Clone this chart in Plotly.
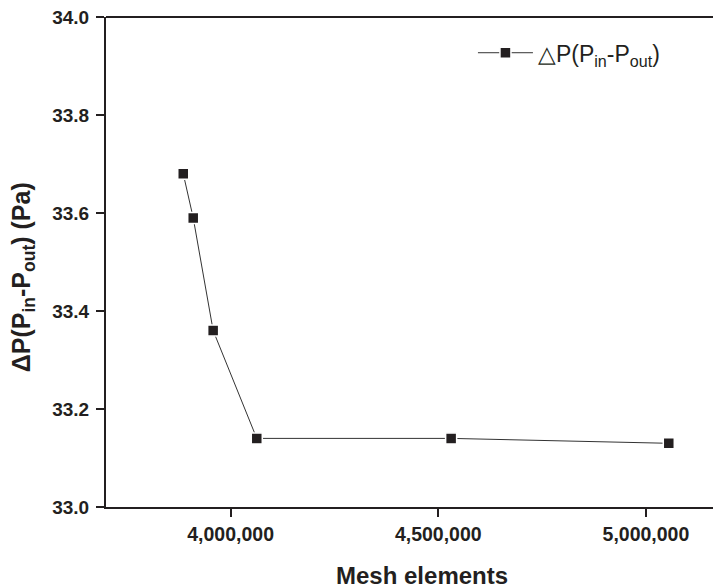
import plotly.graph_objects as go

mesh_elements = [3886000, 3910000, 3958000, 4063000, 4531000, 5055000]
delta_p = [33.68, 33.59, 33.36, 33.14, 33.14, 33.13]
x_tick_vals = [4000000, 4500000, 5000000]
x_tick_text = ["4,000,000", "4,500,000", "5,000,000"]
y_tick_vals = [33.0, 33.2, 33.4, 33.6, 33.8, 34.0]
y_tick_text = ["33.0", "33.2", "33.4", "33.6", "33.8", "34.0"]

FONT = "Liberation Sans, Arial"
INK = "#231f20"

fig = go.Figure()
fig.add_trace(go.Scatter(
    x=mesh_elements, y=delta_p, mode="lines+markers",
    name="△P(P<sub>in</sub>-P<sub>out</sub>)",
    line=dict(color="#333333", width=1),
    marker=dict(symbol="square", size=11, color=INK,
                line=dict(color="white", width=1.5)),
))

fig.update_layout(
    width=721, height=588,
    margin=dict(l=98, r=0, t=9, b=89, autoexpand=False),
    paper_bgcolor="white", plot_bgcolor="white",
    showlegend=True,
    legend=dict(x=0.589, y=0.927, xanchor="left", yanchor="middle",
                bgcolor="rgba(0,0,0,0)",
                font=dict(family=FONT, size=23, color=INK),
                itemwidth=55),
    xaxis=dict(
        range=[3700000, 5200000], automargin=False,
        tickvals=x_tick_vals, ticktext=x_tick_text,
        ticks="outside", ticklen=8, tickwidth=2, tickcolor=INK,
        ticklabelstandoff=1, ticklabeloverflow="allow",
        showline=True, linewidth=2, linecolor=INK, mirror=False,
        showgrid=False, zeroline=False,
        tickfont=dict(family=FONT, size=19.5, color=INK, weight="bold"),
    ),
    yaxis=dict(
        range=[33.0, 34.0], automargin=False,
        tickvals=y_tick_vals, ticktext=y_tick_text,
        ticks="outside", ticklen=8, tickwidth=2, tickcolor=INK,
        ticklabelstandoff=3, ticklabeloverflow="allow",
        showline=True, linewidth=2, linecolor=INK, mirror=False,
        showgrid=False, zeroline=False,
        tickfont=dict(family=FONT, size=19, color=INK, weight="bold"),
    ),
    shapes=[
        dict(type="line", xref="paper", yref="paper", x0=0, x1=1, y0=1, y1=1,
             line=dict(color=INK, width=2), layer="above"),
    ],
    annotations=[
        dict(text="<b>Mesh elements</b>", xref="paper", yref="paper",
             x=0.5, y=0, xshift=4, yshift=-68, xanchor="center", yanchor="middle",
             showarrow=False, font=dict(family=FONT, size=24, color=INK)),
        dict(text="<b>ΔP(P<sub>in</sub>-P<sub>out</sub>) (Pa)</b>", xref="paper", yref="paper",
             x=0, y=0.469, xshift=-83, xanchor="center", yanchor="middle",
             textangle=-90, showarrow=False,
             font=dict(family=FONT, size=25, color=INK)),
    ],
)

fig.write_html("out.html")
